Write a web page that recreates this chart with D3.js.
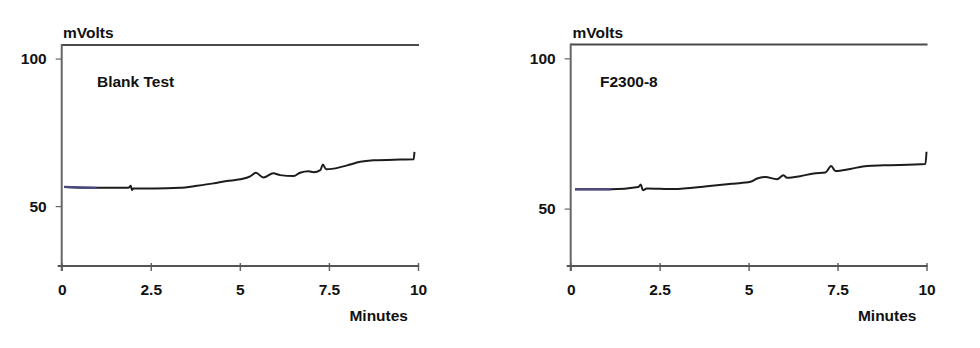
<!DOCTYPE html>
<html><head><meta charset="utf-8">
<script src="https://cdn.jsdelivr.net/npm/d3@7"></script>
<style>
html,body{margin:0;padding:0;background:#fff;}
svg{display:block;font-family:"Liberation Sans",Arial,sans-serif;}
</style></head>
<body>
<svg id="chart" width="980" height="348"></svg>
<script>
// ---- data ----
const panelTitles = ["Blank Test", "F2300-8"];
const xTickValues = [0, 2.5, 5, 7.5, 10];
const yTickValues = [50, 100];
const yAxisLabel = "mVolts";
const xAxisLabel = "Minutes";
const baselineEnd = [0.98, 1.13]; // end of blue baseline segment (minutes)

const blankMinutes = [0.07,0.98,1.87,1.94,1.97,2.01,2.6,3.32,3.8,4.26,4.63,5.01,5.29,5.45,5.66,5.94,6.13,6.51,6.69,6.93,7.07,7.26,7.33,7.42,7.63,8.01,8.38,8.75,9.50,9.88,9.90];
const blankMV      = [56.5,56.2,56.2,56.9,55.4,56.0,56.0,56.2,56.9,57.7,58.5,59.1,60.1,61.3,59.7,61.1,60.5,60.2,61.3,61.8,61.5,62.2,64.1,62.5,62.7,63.8,65.0,65.5,65.8,65.9,68.4];

const sampleMinutes = [0.12,1.13,1.90,1.97,2.03,2.14,2.89,3.83,4.58,5.05,5.24,5.47,5.80,5.98,6.08,6.45,6.83,7.16,7.32,7.44,7.86,8.33,8.80,9.97,10.0];
const sampleMV      = [56.4,56.4,57.2,58.0,56.1,56.7,56.5,57.4,58.3,58.9,60.0,60.5,59.8,61.1,60.3,60.8,61.7,62.0,64.2,62.5,63.2,64.2,64.4,64.8,68.9];

// ---- layout ----
const panels = [
  {title: panelTitles[0], xs: blankMinutes, ys: blankMV, blueEnd: baselineEnd[0],
   x0: 61.7, x1: 418, yTop: 45, yBot: 266, yDom: [29.7, 104.6], titleX: 97, mvX: 63},
  {title: panelTitles[1], xs: sampleMinutes, ys: sampleMV, blueEnd: baselineEnd[1],
   x0: 570.7, x1: 926.5, yTop: 44.5, yBot: 266, yDom: [30.9, 104.6], titleX: 600, mvX: 572.5}
];

const svg = d3.select("#chart");
const fontSize = "15.5px";

panels.forEach(p => {
  const x = d3.scaleLinear().domain([0, 10]).range([p.x0, p.x1]);
  const y = d3.scaleLinear().domain(p.yDom).range([p.yBot, p.yTop]);
  const g = svg.append("g");

  // top frame line
  g.append("line").attr("x1", p.x0).attr("x2", p.x1 + 1).attr("y1", p.yTop).attr("y2", p.yTop)
    .attr("stroke", "#4a4a4a").attr("stroke-width", 2);

  // y axis
  const ya = g.append("g").attr("transform", `translate(${p.x0},0)`)
    .call(d3.axisLeft(y).tickValues(yTickValues).tickSize(6).tickPadding(9).tickFormat(d3.format("d")));
  ya.select(".domain").remove();
  ya.selectAll(".tick line").attr("stroke", "#666").attr("stroke-width", 1.2);
  ya.selectAll(".tick text").attr("font-size", fontSize).attr("font-weight", "bold").attr("fill", "#111");
  g.append("line").attr("x1", p.x0).attr("x2", p.x0).attr("y1", p.yTop - 1).attr("y2", p.yBot + 5)
    .attr("stroke", "#666").attr("stroke-width", 2);

  // x axis
  const xa = g.append("g").attr("transform", `translate(0,${p.yBot})`)
    .call(d3.axisBottom(x).tickValues(xTickValues).tickSize(5).tickFormat(d => String(d)));
  xa.select(".domain").remove();
  xa.selectAll(".tick line").attr("stroke", "#666").attr("stroke-width", 1.5).attr("y1", -3);
  xa.selectAll(".tick text").attr("font-size", fontSize).attr("font-weight", "bold").attr("fill", "#111")
    .attr("y", 24).attr("dy", "0.35em");
  g.append("line").attr("x1", p.x0 - 4).attr("x2", p.x1 + 1).attr("y1", p.yBot).attr("y2", p.yBot)
    .attr("stroke", "#555").attr("stroke-width", 2);

  // labels
  g.append("text").attr("x", p.mvX).attr("y", 33).attr("dy", "0.35em")
    .attr("font-size", fontSize).attr("font-weight", "bold").attr("fill", "#111").text(yAxisLabel);
  g.append("text").attr("x", p.x1 - 10).attr("y", 316).attr("dy", "0.35em").attr("text-anchor", "end")
    .attr("font-size", fontSize).attr("font-weight", "bold").attr("fill", "#111").text(xAxisLabel);
  g.append("text").attr("x", p.titleX).attr("y", 82).attr("dy", "0.35em")
    .attr("font-size", fontSize).attr("font-weight", "bold").attr("fill", "#111").text(p.title);

  // trace
  const pts = p.xs.map((t, i) => [t, p.ys[i]]);
  const line = d3.line().x(d => x(d[0])).y(d => y(d[1])).curve(d3.curveMonotoneX);
  g.append("path").attr("d", line(pts)).attr("fill", "none").attr("stroke", "#1c1c1c")
    .attr("stroke-width", 2).attr("stroke-linejoin", "round");
  const bluePts = pts.filter(d => d[0] <= p.blueEnd);
  g.append("path").attr("d", line(bluePts)).attr("fill", "none").attr("stroke", "#4a4a80")
    .attr("stroke-width", 2.2);
});
</script>
</body></html>
